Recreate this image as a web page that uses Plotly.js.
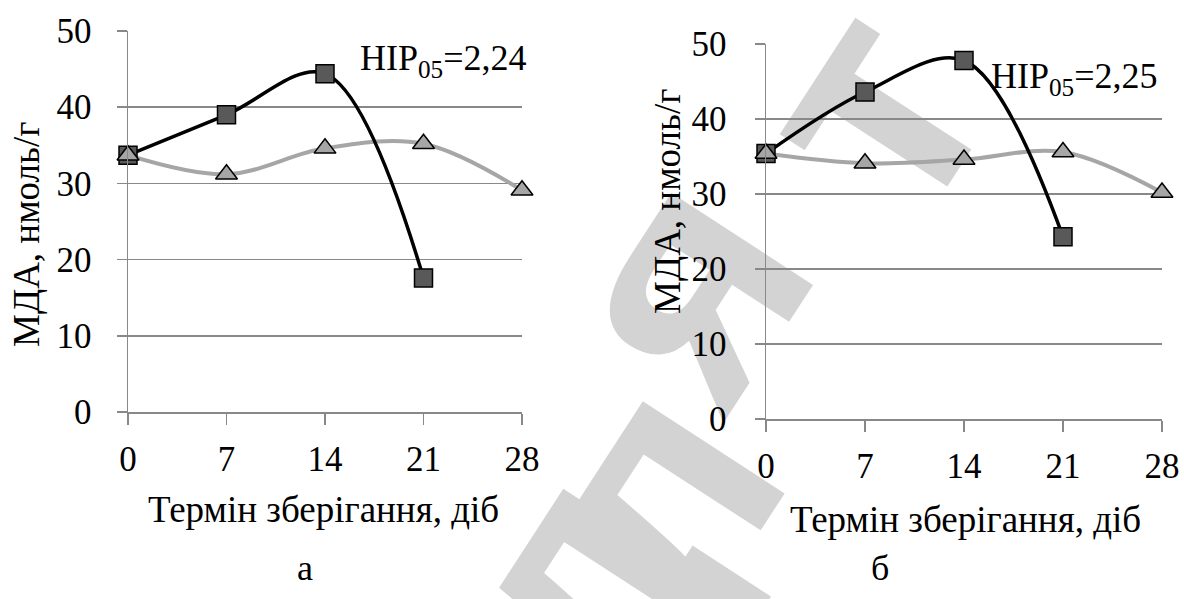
<!DOCTYPE html>
<html>
<head>
<meta charset="utf-8">
<script src="https://cdn.plot.ly/plotly-3.0.1.min.js"></script>
<style>
  html, body { margin: 0; padding: 0; background: #ffffff; }
  #wrap { position: relative; width: 1184px; height: 599px; overflow: hidden; }
  #wm, #chart { position: absolute; left: 0; top: 0; width: 1184px; height: 599px; }
  #chart text { font-family: 'Liberation Serif', 'Times New Roman', serif !important; }
</style>
</head>
<body>
<div id="wrap">
  <div id="wm"></div>
  <div id="chart"></div>
</div>
<script>
// ---- data ----
const days = [0, 7, 14, 21, 28];
const tickLabels = ['0', '7', '14', '21', '28'];
// chart "а"
const daysSquareA = [0, 7, 14, 21];
const squareA = [33.7, 39.0, 44.4, 17.6];
const triangleA = [33.7, 31.2, 34.6, 35.2, 29.1];
// chart "б"
const daysSquareB = [0, 7, 14, 21];
const squareB = [35.4, 43.6, 47.8, 24.3];
const triangleB = [35.4, 34.1, 34.6, 35.6, 30.2];
const hipA = 'НІР<sub>05</sub>=2,24';
const hipB = 'НІР<sub>05</sub>=2,25';
const xTitle = 'Термін зберігання, діб';
const yTitle = 'МДА, нмоль/г';
const panelA = 'а';
const panelB = 'б';
const watermarkLetters = ['д', 'л', 'я', 'т'];

const W = 1184, H = 599;
const FONT = 'Liberation Serif';
const GRID = '#888888';

function px(x) { return x / W; }
function py(y) { return 1 - y / H; }

function seriesTraces(xa, ya, xs, ys, xt, yt) {
  return [
    {x: xt, y: yt, xaxis: xa, yaxis: ya, mode: 'lines', type: 'scatter',
     line: {color: '#a6a6a6', width: 4, shape: 'spline', smoothing: 1},
     cliponaxis: false, hoverinfo: 'skip', showlegend: false},
    {x: xs, y: ys, xaxis: xa, yaxis: ya, mode: 'lines', type: 'scatter',
     line: {color: '#000000', width: 3.5, shape: 'spline', smoothing: 1},
     cliponaxis: false, hoverinfo: 'skip', showlegend: false},
    {x: xs, y: ys, xaxis: xa, yaxis: ya, mode: 'markers', type: 'scatter',
     marker: {symbol: 'square', size: 18, color: '#595959', line: {color: '#000000', width: 1.5}},
     cliponaxis: false, showlegend: false},
    {x: xt, y: yt, xaxis: xa, yaxis: ya, mode: 'markers', type: 'scatter',
     marker: {symbol: 'triangle-up', size: 19, color: '#a6a6a6', line: {color: '#000000', width: 1.5}},
     cliponaxis: false, showlegend: false}
  ];
}

const traces = [].concat(
  seriesTraces('x', 'y', daysSquareA, squareA, days, triangleA),
  seriesTraces('x2', 'y2', daysSquareB, squareB, days, triangleB)
);

function xAxis(domain, anchor) {
  return {
    domain: domain, anchor: anchor, range: [0, 28],
    tickmode: 'array', tickvals: days, ticktext: tickLabels,
    ticks: 'outside', ticklen: 11, tickwidth: 1.5, tickcolor: GRID,
    showline: true, linecolor: GRID, linewidth: 1.5,
    showgrid: false, zeroline: false, fixedrange: true,
    tickfont: {family: FONT, size: 35, color: '#000'},
    ticklabelstandoff: 4
  };
}
function yAxis(domain, anchor, standoff) {
  return {
    domain: domain, anchor: anchor, range: [0, 50],
    tickmode: 'linear', tick0: 0, dtick: 10,
    ticks: 'outside', ticklen: 10, tickwidth: 1.5, tickcolor: GRID,
    showline: true, linecolor: GRID, linewidth: 1.5,
    showgrid: true, gridcolor: GRID, gridwidth: 1.5, zeroline: false, fixedrange: true,
    tickfont: {family: FONT, size: 35, color: '#000'},
    ticklabelstandoff: standoff
  };
}

function txt(text, x, y, size, extra) {
  return Object.assign({text: text, xref: 'paper', yref: 'paper', x: px(x), y: py(y),
    xanchor: 'center', yanchor: 'middle', showarrow: false,
    font: {family: FONT, size: size, color: '#000'}}, extra || {});
}

const layout = {
  width: W, height: H,
  margin: {l: 0, r: 0, t: 0, b: 0},
  font: {family: FONT, color: '#000'},
  paper_bgcolor: 'rgba(0,0,0,0)', plot_bgcolor: 'rgba(0,0,0,0)',
  showlegend: false,
  xaxis: xAxis([px(128), px(522)], 'y'),
  yaxis: yAxis([py(412), py(31)], 'x', 18),
  xaxis2: xAxis([px(766), px(1162)], 'y2'),
  yaxis2: yAxis([py(419), py(44)], 'x2', 21),
  annotations: [
    txt(yTitle, 26, 235, 37, {textangle: -90}),
    txt(yTitle, 667, 202, 37, {textangle: -90}),
    txt(xTitle, 323, 509, 37),
    txt(xTitle, 965, 519, 37),
    txt(hipA, 443, 60, 36),
    txt(hipB, 1074, 78, 36),
    txt(panelA, 305, 568, 36),
    txt(panelB, 880, 568, 36)
  ]
};

Plotly.newPlot('chart', traces, layout, {staticPlot: true, displayModeBar: false});

// watermark underneath the charts
const wmPos = [[572, 582], [648, 500], [680, 286], [866, 108]];
Plotly.newPlot('wm', [], {
  width: W, height: H, margin: {l: 0, r: 0, t: 0, b: 0},
  paper_bgcolor: '#ffffff', plot_bgcolor: '#ffffff',
  xaxis: {visible: false}, yaxis: {visible: false},
  annotations: watermarkLetters.map((ch, i) => ({
    text: '<b>' + ch + '</b>', textangle: -57, xref: 'paper', yref: 'paper',
    x: px(wmPos[i][0]), y: py(wmPos[i][1]), xanchor: 'center', yanchor: 'middle', showarrow: false,
    font: {family: 'Liberation Sans', size: 320, color: '#d3d3d3'}
  }))
}, {staticPlot: true, displayModeBar: false});
</script>
</body>
</html>
